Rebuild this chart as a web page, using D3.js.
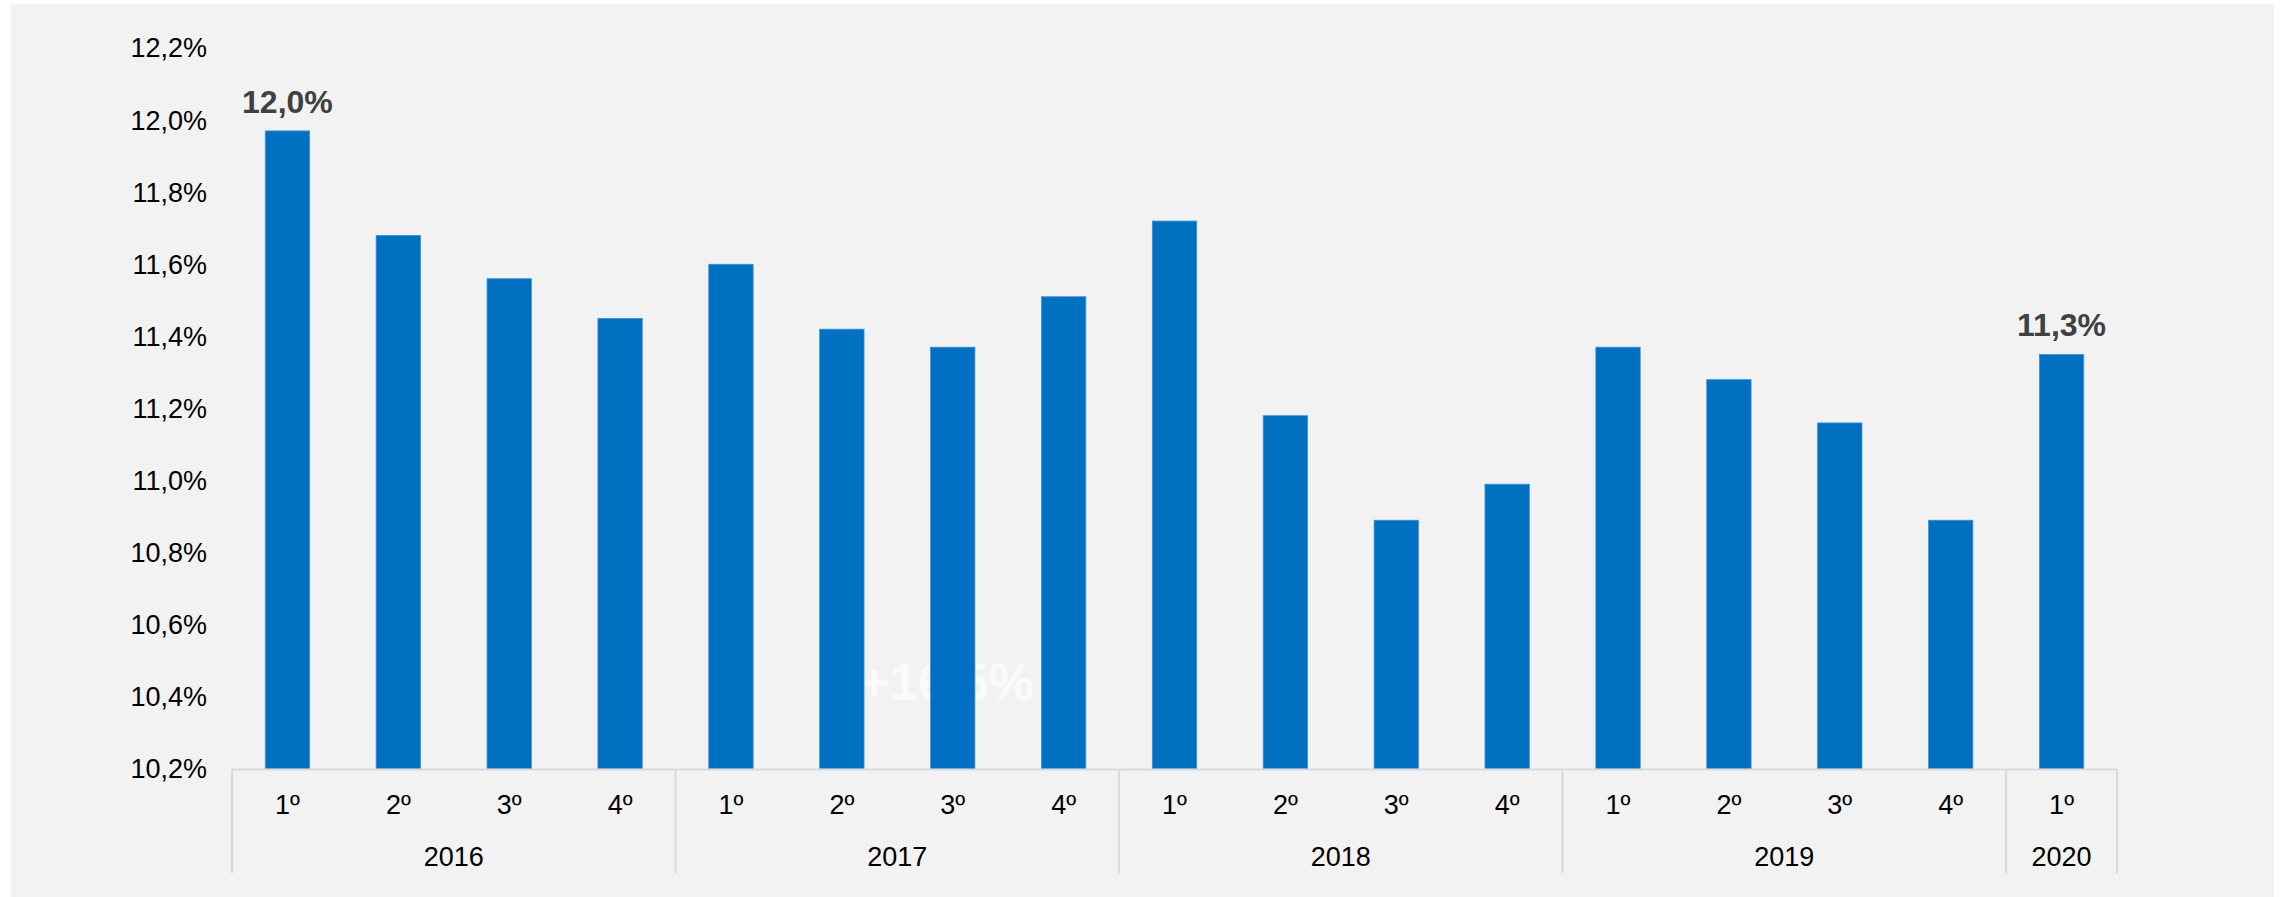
<!DOCTYPE html>
<html>
<head>
<meta charset="UTF-8">
<title>Trimestres 2016-2020</title>
<script src="https://cdn.jsdelivr.net/npm/d3@7"></script>
<style>
  body { margin: 0; background: #ffffff; }
  text { font-family: "Liberation Sans", Arial, sans-serif; }
</style>
</head>
<body>
<svg width="2282" height="897"></svg>
<script>
// data
var years = ["2016", "2017", "2018", "2019", "2020"];
var quartersPerYear = [4, 4, 4, 4, 1];
var quarterNames = ["1º", "2º", "3º", "4º"];
var values = [11.97, 11.68, 11.56, 11.45,
              11.60, 11.42, 11.37, 11.51,
              11.72, 11.18, 10.89, 10.99,
              11.37, 11.28, 11.16, 10.89,
              11.35];
var valueLabels = {0: "12,0%", 16: "11,3%"};
var yTicks = [10.2, 10.4, 10.6, 10.8, 11.0, 11.2, 11.4, 11.6, 11.8, 12.0, 12.2];
var noteText = "+16,5%";

var svg = d3.select("svg");
var width = 2282, height = 897;

// panel background
svg.append("rect")
    .attr("x", 11).attr("y", 4)
    .attr("width", 2274 - 11).attr("height", height - 4)
    .attr("fill", "#f2f2f2");

// build category list
var cats = [];
years.forEach(function(y, yi) {
    for (var q = 0; q < quartersPerYear[yi]; q++) {
        cats.push({year: y, yi: yi, q: quarterNames[q]});
    }
});
cats.forEach(function(c, i) { c.value = values[i]; c.i = i; });

var x = d3.scaleBand()
    .domain(d3.range(cats.length))
    .range([232, 2117])
    .paddingInner(0.6)
    .paddingOuter(0.3);

var y = d3.scaleLinear()
    .domain([10.2, 12.2])
    .range([769, 48]);

var fmt = d3.formatLocale({decimal: ",", thousands: ".", grouping: [3], currency: ["", "€"]}).format(".1f");

// y tick labels
svg.append("g").selectAll("text")
    .data(yTicks)
    .enter().append("text")
    .attr("x", 207)
    .attr("y", function(d) { return y(d); })
    .attr("dy", "0.35em")
    .attr("text-anchor", "end")
    .attr("font-size", 27)
    .attr("fill", "#000")
    .text(function(d) { return fmt(d) + "%"; });

// white note text sitting behind the bars
svg.append("text")
    .attr("x", 947)
    .attr("y", 700)
    .attr("text-anchor", "middle")
    .attr("font-size", 51)
    .attr("font-weight", "bold")
    .attr("fill", "#fafafa")
    .text(noteText);

// bars
svg.append("g").selectAll("rect")
    .data(cats)
    .enter().append("rect")
    .attr("x", function(d) { return x(d.i); })
    .attr("y", function(d) { return y(d.value); })
    .attr("width", x.bandwidth())
    .attr("height", function(d) { return y(10.2) - y(d.value); })
    .attr("fill", "#0070c0")
    .attr("stroke", "#3d8fd8")
    .attr("stroke-width", 0.8);

// value labels
svg.append("g").selectAll("text")
    .data(cats.filter(function(d) { return valueLabels[d.i]; }))
    .enter().append("text")
    .attr("x", function(d) { return x(d.i) + x.bandwidth() / 2; })
    .attr("y", function(d) { return y(d.value) - 18; })
    .attr("text-anchor", "middle")
    .attr("font-size", 32)
    .attr("font-weight", "bold")
    .attr("fill", "#404040")
    .text(function(d) { return valueLabels[d.i]; });

// category axis
var axisG = svg.append("g");
axisG.append("line")
    .attr("x1", 232).attr("x2", 2117)
    .attr("y1", 769.5).attr("y2", 769.5)
    .attr("stroke", "#d9d9d9").attr("stroke-width", 2);

var step = x.step();
var bounds = [0];
quartersPerYear.forEach(function(n, i) { bounds.push(bounds[i] + n); });

axisG.selectAll("line.sep")
    .data(bounds)
    .enter().append("line")
    .attr("class", "sep")
    .attr("x1", function(b) { return 232 + b * step; })
    .attr("x2", function(b) { return 232 + b * step; })
    .attr("y1", 769).attr("y2", 873)
    .attr("stroke", "#d9d9d9").attr("stroke-width", 2);

axisG.selectAll("text.q")
    .data(cats)
    .enter().append("text")
    .attr("class", "q")
    .attr("x", function(d) { return x(d.i) + x.bandwidth() / 2; })
    .attr("y", 814)
    .attr("text-anchor", "middle")
    .attr("font-size", 27)
    .text(function(d) { return d.q; });

axisG.selectAll("text.yr")
    .data(years)
    .enter().append("text")
    .attr("class", "yr")
    .attr("x", function(d, i) { return 232 + (bounds[i] + bounds[i + 1]) / 2 * step; })
    .attr("y", 866)
    .attr("text-anchor", "middle")
    .attr("font-size", 27)
    .text(function(d) { return d; });
</script>
</body>
</html>
